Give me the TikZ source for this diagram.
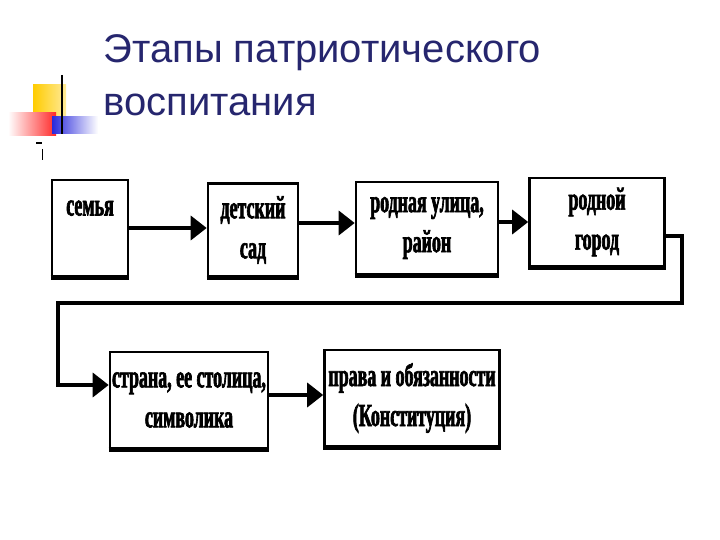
\documentclass[tikz,border=0pt]{standalone}
\usepackage{fontspec}
\setmainfont{Liberation Sans}
\newfontfamily\boxfont[FakeStretch=0.56,FakeBold=2]{Liberation Serif Bold}
\usepackage{tikz}
\usetikzlibrary{arrows.meta,calc}

\definecolor{titleblue}{RGB}{38,38,110}
\definecolor{markyellow}{RGB}{255,204,0}
\definecolor{markred}{RGB}{255,40,40}
\definecolor{markblue}{RGB}{40,40,220}

\tikzset{
  stage/.style={draw, line width=2.6pt, align=center, inner sep=2pt,
    font=\boxfont\fontsize{32}{40}\selectfont,
    append after command={(\tikzlastnode.south west) edge[line width=4.6pt] (\tikzlastnode.south east)}},
  flow/.style={line width=3.6pt, -{Triangle[length=16pt,width=24pt]}},
}

\begin{document}
\begin{tikzpicture}[x=1pt,y=-1pt]
			\useasboundingbox (0,0) rectangle (720,540);

			% title bullet
			\shade [left color=markyellow, right color=markyellow!40] (33,85) rectangle (66,118);
			\shade [left color=white, right color=markred] (8,113) rectangle (56,136);
			\shade [left color=markblue, right color=white] (52,117) rectangle (98,134);
			\draw [line width=2pt] (62,75) -- (62,134);
			\draw [line width=1.2pt] (36,143) -- (42,143);
			\draw [line width=0.8pt] (42,149) -- (42,160);

			\node [anchor=base west, text=titleblue, font=\fontsize{40}{53}\selectfont, align=left] (title) at (100,116)
				{Этапы патриотического\\воспитания};

			% stages
			\node [stage, minimum width=76pt, minimum height=96pt] (family) at (90,228) {семья\\~};
			\node [stage, minimum width=90pt, minimum height=93pt] (kinder) at (253,230) {детский\\сад};
			\node [stage, minimum width=142pt, minimum height=92pt] (street) at (427,228) {родная улица,\\район};
			\node [stage, minimum width=135pt, minimum height=88pt] (town) at (597,222) {родной\\город};
			\node [stage, minimum width=158pt, minimum height=96pt] (country) at (189,400) {страна, ее столица,\\символика};
			\node [stage, minimum width=175pt, minimum height=96pt] (rights) at (412,398) {права и обязанности\\(Конституция)};

			\coordinate (turnR) at (682,303);
			\coordinate (turnL) at (58,303);

			\draw [flow] (family.east) -- (family.east -| kinder.west);
			\draw [flow] ([yshift=7pt]kinder.east) -- ([yshift=7pt]kinder.east -| street.west);
			\draw [flow] ([yshift=6pt]street.east) -- ([yshift=6pt]street.east -| town.west);
			\draw [flow] ([yshift=-14pt]town.east) -| (turnR) -- (turnL) |- ([yshift=15pt]country.west);
			\draw [flow] ([yshift=5pt]country.east) -- ([yshift=5pt]country.east -| rights.west);
		\end{tikzpicture}
\end{document}
